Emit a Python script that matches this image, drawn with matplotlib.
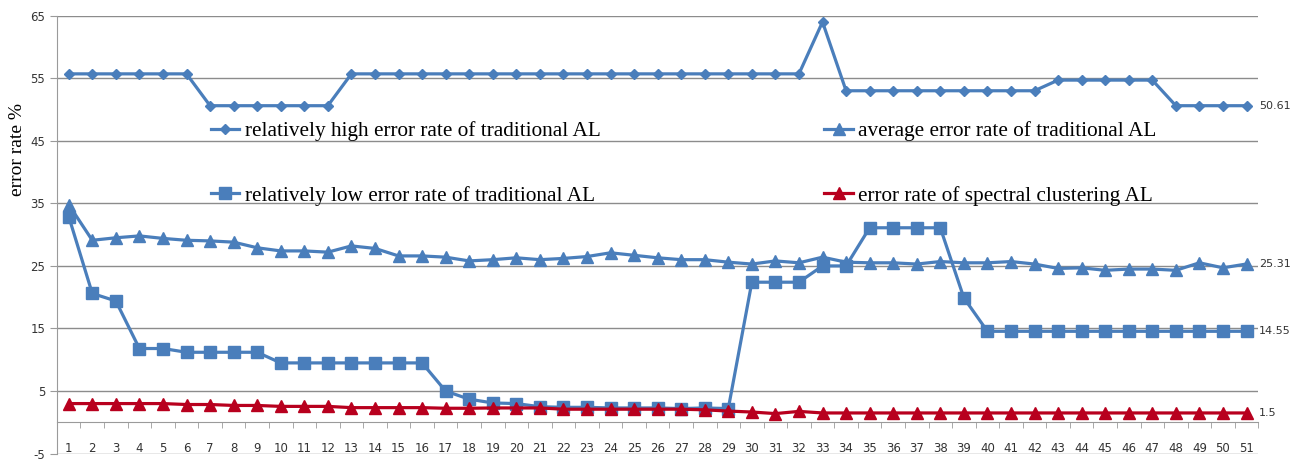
import matplotlib
matplotlib.use("Agg")
import matplotlib.pyplot as plt

plt.rcParams["axes.unicode_minus"] = False

rounds = list(range(1, 52))

high_err = [55.7, 55.7, 55.7, 55.7, 55.7, 55.7, 50.61, 50.61, 50.61, 50.61,
            50.61, 50.61, 55.7, 55.7, 55.7, 55.7, 55.7, 55.7, 55.7, 55.7,
            55.7, 55.7, 55.7, 55.7, 55.7, 55.7, 55.7, 55.7, 55.7, 55.7,
            55.7, 55.7, 64.0, 53.0, 53.0, 53.0, 53.0, 53.0, 53.0, 53.0,
            53.0, 53.0, 54.7, 54.7, 54.7, 54.7, 54.7, 50.61, 50.61, 50.61,
            50.61]

avg_err = [34.8, 29.1, 29.5, 29.8, 29.4, 29.1, 29.0, 28.8, 27.9, 27.4,
           27.4, 27.2, 28.2, 27.8, 26.6, 26.6, 26.4, 25.8, 26.0, 26.3,
           26.0, 26.2, 26.5, 27.1, 26.7, 26.3, 26.0, 26.0, 25.6, 25.3,
           25.8, 25.5, 26.4, 25.6, 25.5, 25.5, 25.3, 25.7, 25.5, 25.5,
           25.7, 25.3, 24.6, 24.7, 24.3, 24.5, 24.5, 24.3, 25.5, 24.7,
           25.31]

low_err = [32.9, 20.6, 19.4, 11.8, 11.8, 11.2, 11.2, 11.2, 11.2, 9.5,
           9.5, 9.5, 9.5, 9.5, 9.5, 9.5, 5.0, 3.7, 3.1, 3.0,
           2.5, 2.4, 2.4, 2.3, 2.3, 2.3, 2.2, 2.3, 2.2, 22.4,
           22.4, 22.4, 25.0, 25.0, 31.1, 31.1, 31.1, 31.1, 19.9, 14.55,
           14.55, 14.55, 14.55, 14.55, 14.55, 14.55, 14.55, 14.55, 14.55, 14.55,
           14.55]

spectral_err = [3.0, 3.0, 3.0, 3.0, 3.0, 2.85, 2.85, 2.7, 2.7, 2.55,
                2.55, 2.55, 2.35, 2.35, 2.35, 2.35, 2.25, 2.25, 2.3, 2.3,
                2.3, 2.1, 2.1, 2.1, 2.1, 2.1, 2.1, 2.0, 1.8, 1.65,
                1.4, 1.75, 1.5, 1.5, 1.5, 1.5, 1.5, 1.5, 1.5, 1.5,
                1.5, 1.5, 1.5, 1.5, 1.5, 1.5, 1.5, 1.5, 1.5, 1.5,
                1.5]

labels = ["relatively high error rate of traditional AL",
          "relatively low error rate of traditional AL",
          "average error rate of traditional AL",
          "error rate of spectral clustering AL"]

blue = "#4a7ebb"
red = "#b8001e"
serif = ["Liberation Serif", "DejaVu Serif"]

fig = plt.figure(figsize=(13.03, 4.61), dpi=100)
ax = fig.add_axes([0.0437, 0.016, 0.922, 0.95])

h1, = ax.plot(rounds, high_err, color=blue, lw=2.3, marker="D", ms=5.5)
h2, = ax.plot(rounds, low_err, color=blue, lw=2.3, marker="s", ms=8)
h3, = ax.plot(rounds, avg_err, color=blue, lw=2.3, marker="^", ms=8)
h4, = ax.plot(rounds, spectral_err, color=red, lw=2.3, marker="^", ms=8)

ax.set_xlim(0.5, 51.5)
ax.set_ylim(-5, 65)
ax.set_yticks(range(-5, 66, 10))
ax.set_xticks(rounds)
ax.set_xticks([r + 0.5 for r in range(0, 52)], minor=True)
ax.grid(axis="y", color="#8c8c8c", lw=1)
ax.set_axisbelow(True)

for s in ["top", "right"]:
    ax.spines[s].set_visible(False)
ax.spines["left"].set_color("#9a9a9a")
ax.spines["bottom"].set_color("#9a9a9a")
ax.spines["bottom"].set_position(("data", 0))

ax.tick_params(axis="x", which="major", length=0, pad=14, labelsize=8.5,
               colors="#333333")
ax.tick_params(axis="x", which="minor", length=4, color="#9a9a9a")
ax.tick_params(axis="y", length=5, color="#9a9a9a", labelsize=8.5,
               labelcolor="#333333")

leg_kw = dict(loc="upper left", frameon=False,
              prop={"family": serif, "size": 15.3}, borderpad=0,
              handlelength=1.35, handletextpad=0.25, labelspacing=2.1)
leg1 = ax.legend([h1, h2], labels[:2], bbox_to_anchor=(0.119, 0.783), **leg_kw)
ax.add_artist(leg1)
ax.legend([h3, h4], labels[2:], bbox_to_anchor=(0.630, 0.783), **leg_kw)

for series in [high_err, avg_err, low_err, spectral_err]:
    ax.annotate(f"{series[-1]:g}", (rounds[-1], series[-1]),
                xytext=(9, 0), textcoords="offset points", va="center",
                fontsize=8, color="#333333")

fig.text(18 / 1303, 1 - 150 / 461, "error rate %", rotation=90,
         ha="center", va="center", family=serif, fontsize=14)

fig.savefig("out.png", dpi=100)
